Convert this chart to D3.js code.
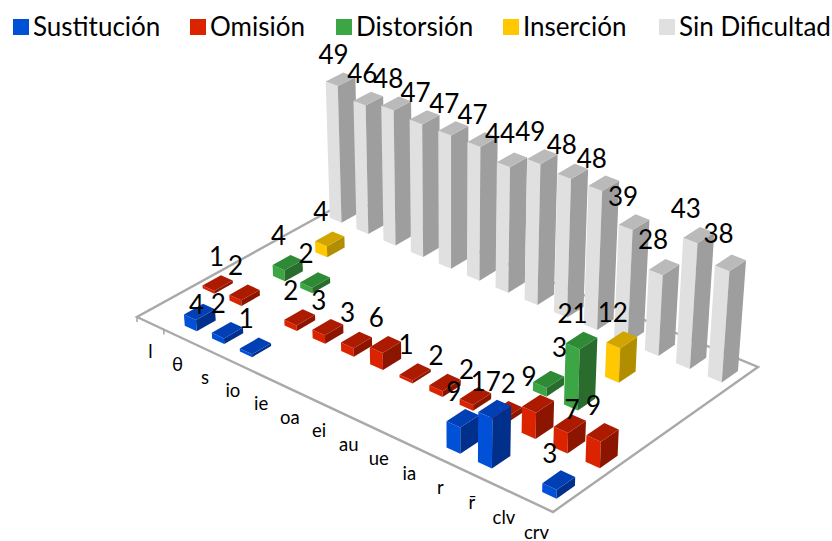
<!DOCTYPE html>
<html>
<head>
<meta charset="utf-8">
<script src="https://cdn.jsdelivr.net/npm/d3@7/dist/d3.min.js"></script>
<style>
  html, body { margin: 0; padding: 0; background: #fff; }
  svg { display: block; }
  text { font-family: Lato, "Open Sans", sans-serif; fill: #000; }
</style>
</head>
<body>
<svg id="chart" width="832" height="541"></svg>
<script>
// Sounds along the floor's long edge.
const categories = ["l", "θ", "s", "io", "ie", "oa", "ei", "au", "ue", "ia", "r", "r̄", "clv", "crv"];

// Error types, front row to back row.
const seriesNames = ["Sustitución", "Omisión", "Distorsión", "Inserción", "Sin Dificultad"];

// Counts per sound; null means no bar.
const sustitucion = [null, 4, 2, 1, null, null, null, null, null, null, 9, 17, null, 3];
const omision = [1, 2, null, 2, 3, 3, 6, 1, 2, 2, 2, 9, 7, 9];
const distorsion = [null, 4, 2, null, null, null, null, null, null, null, 3, 21, null, null];
const insercion = [null, 4, null, null, null, null, null, null, null, null, null, 12, null, null];
const sinDificultad = [49, 46, 48, 47, 47, 47, 44, 49, 48, 48, 39, 28, 43, 38];

const seriesValues = [sustitucion, omision, distorsion, insercion, sinDificultad];

// Face shades per series: side facing left, top, side facing right.
const shades = [
  { left: "#0050d8", top: "#0040b4", right: "#00308c" },
  { left: "#dc2300", top: "#ac1a00", right: "#8c1500" },
  { left: "#3ca544", top: "#2e8a34", right: "#2a6c2e" },
  { left: "#ffc800", top: "#d2a400", right: "#b08e00" },
  { left: "#e0e0e0", top: "#bababa", right: "#9e9e9e" }
];

const svg = d3.select("#chart");

// Floor corners on screen, used to build the perspective projection.
const floor = { a: [137, 317], b: [553, 512], c: [758, 367], d: [351, 199] };
const den = (floor.b[0] - floor.c[0]) * (floor.d[1] - floor.c[1]) - (floor.d[0] - floor.c[0]) * (floor.b[1] - floor.c[1]);
const sx = floor.a[0] - floor.b[0] + floor.c[0] - floor.d[0];
const sy = floor.a[1] - floor.b[1] + floor.c[1] - floor.d[1];
const g = (sx * (floor.d[1] - floor.c[1]) - (floor.d[0] - floor.c[0]) * sy) / den;
const h = ((floor.b[0] - floor.c[0]) * sy - sx * (floor.b[1] - floor.c[1])) / den;

// Vertical lines lean toward a distant vanishing point below the chart.
const vanish = [452, 4300];
const heightScale = d3.scaleLinear().domain([0, 1]).range([0, -0.0007]);

function project(u, v, value) {
  const X = (floor.b[0] - floor.a[0] + g * floor.b[0]) * u + (floor.d[0] - floor.a[0] + h * floor.d[0]) * v + floor.a[0];
  const Y = (floor.b[1] - floor.a[1] + g * floor.b[1]) * u + (floor.d[1] - floor.a[1] + h * floor.d[1]) * v + floor.a[1];
  const W = g * u + h * v + 1;
  const c = heightScale(value || 0);
  return [(X + vanish[0] * c) / (W + c), (Y + vanish[1] * c) / (W + c)];
}

const uScale = d3.scaleBand().domain(d3.range(categories.length)).range([0, 1]).paddingInner(0.56).paddingOuter(0.28);
const vScale = d3.scaleBand().domain(d3.range(seriesNames.length)).range([0, 1]).paddingInner(0.58).paddingOuter(0.29);
const centerOf = (scale, key) => scale(key) + scale.bandwidth() / 2;

// Floor outline: front edges and the two back edges.
const outline = d3.line();
svg.append("g").attr("fill", "none").attr("stroke", "#a9a9a9").attr("stroke-width", 2.4)
  .selectAll("path")
  .data([[[0, 1], [0, 0], [1, 0], [1, 1], [0, 1]]])
  .join("path")
  .attr("d", d => outline(d.map(p => project(p[0], p[1], 0))));

// Short tick marks by the left corner.
const tickPositions = [0, 1 / categories.length];
svg.append("g").attr("stroke", "#a9a9a9").attr("stroke-width", 1.6)
  .selectAll("line").data(tickPositions).join("line")
  .attr("x1", t => project(t, 0, 0)[0]).attr("y1", t => project(t, 0, 0)[1])
  .attr("x2", t => project(t, 0, 0)[0]).attr("y2", t => project(t, 0, 0)[1] + 5);

// Flatten the table into bars, painted from the far corner to the near one.
const bars = [];
seriesValues.forEach((values, s) => values.forEach((value, i) => {
  if (value !== null) bars.push({ s, i, value });
}));
bars.sort((p, q) => d3.descending(p.s, q.s) || d3.ascending(p.i, q.i));

const barGroup = svg.append("g");
const poly = pts => pts.map(p => p.map(n => n.toFixed(2)).join(",")).join(" ");

bars.forEach(bar => {
  const u0 = uScale(bar.i), u1 = u0 + uScale.bandwidth();
  const v0 = vScale(bar.s), v1 = v0 + vScale.bandwidth();
  const colors = shades[bar.s];
  const b = (u, v) => project(u, v, 0);
  const t = (u, v) => project(u, v, bar.value);
  const g1 = barGroup.append("g");
  g1.append("polygon").attr("points", poly([b(u0, v0), b(u1, v0), t(u1, v0), t(u0, v0)])).attr("fill", colors.left);
  g1.append("polygon").attr("points", poly([b(u1, v0), b(u1, v1), t(u1, v1), t(u1, v0)])).attr("fill", colors.right);
  g1.append("polygon").attr("points", poly([t(u0, v0), t(u1, v0), t(u1, v1), t(u0, v1)])).attr("fill", colors.top);
});

// Category names just below the front edge.
svg.append("g").selectAll("text").data(categories).join("text")
  .attr("x", (d, i) => project(centerOf(uScale, i), 0, 0)[0])
  .attr("y", (d, i) => project(centerOf(uScale, i), 0, 0)[1] + 35)
  .attr("text-anchor", "middle")
  .attr("font-size", 18.5)
  .text(d => d);

// Value labels sit up and to the left of each bar top; a few are moved clear of neighbours.
const labelShift = {
  "0-1": [6, 20], "1-0": [8, 0], "1-10": [11, 0], "1-12": [11, 13], "2-10": [20, -5],
  "4-0": [2, 2], "4-1": [3, 2], "4-2": [1, 2], "4-3": [0, 2], "4-4": [0, 2], "4-5": [-1, 2],
  "4-6": [-3, 1], "4-7": [-3, 2], "4-8": [-2, 0], "4-9": [-3, 2], "4-10": [-2, 1], "4-11": [-2, -1],
  "4-12": [-4, 0], "4-13": [-3, -2]
};
svg.append("g").selectAll("text").data(bars).join("text")
  .attr("x", d => {
    const top = project(centerOf(uScale, d.i), centerOf(vScale, d.s), d.value);
    return top[0] - 9 + (labelShift[d.s + "-" + d.i] || [0, 0])[0];
  })
  .attr("y", d => {
    const top = project(centerOf(uScale, d.i), centerOf(vScale, d.s), d.value);
    return top[1] - 17.5 + (labelShift[d.s + "-" + d.i] || [0, 0])[1];
  })
  .attr("text-anchor", "middle")
  .attr("font-size", 26)
  .text(d => d.value);

// Legend across the top.
const legendX = [13, 190, 336, 503, 659];
const legend = svg.append("g").selectAll("g").data(seriesNames).join("g")
  .attr("transform", (d, i) => `translate(${legendX[i]},19)`);
legend.append("rect").attr("width", 16).attr("height", 16).attr("fill", (d, i) => shades[i].left);
legend.append("text").attr("x", 20).attr("y", 17).attr("font-size", 26).text(d => d);
</script>
</body>
</html>
